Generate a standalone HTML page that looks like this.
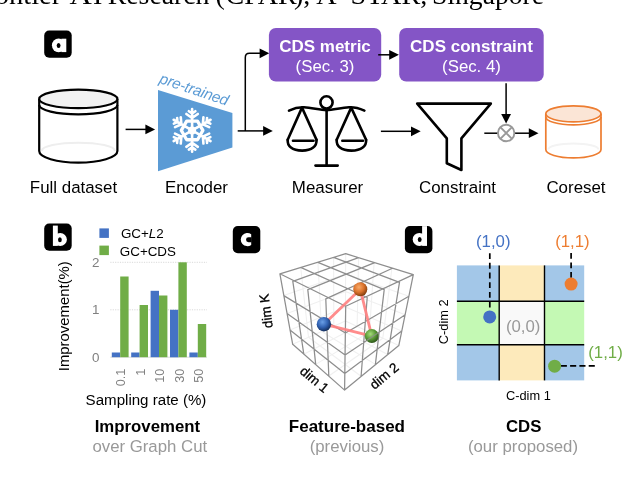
<!DOCTYPE html>
<html><head><meta charset="utf-8"><title>Figure</title>
<style>
html,body{margin:0;padding:0;background:#fff;overflow:hidden}
body{width:638px;height:488px;font-family:"Liberation Sans",sans-serif}
svg{display:block;will-change:transform}
</style></head><body>
<svg width="638" height="488" viewBox="0 0 638 488">
<rect x="0" y="0" width="638" height="488" fill="#fff"/>
<text x="-5.3" y="4.0" font-family="Liberation Serif, serif" font-size="28" fill="#000" textLength="66.6" lengthAdjust="spacingAndGlyphs">ontier</text>
<text x="69.4" y="4.0" font-family="Liberation Serif, serif" font-size="28" fill="#000" textLength="22.3" lengthAdjust="spacingAndGlyphs">A</text>
<text x="92.9" y="4.0" font-family="Liberation Serif, serif" font-size="28" fill="#000">I</text>
<text x="107.8" y="4.0" font-family="Liberation Serif, serif" font-size="28" fill="#000" textLength="101.6" lengthAdjust="spacingAndGlyphs">Research</text>
<text x="215.4" y="4.0" font-family="Liberation Serif, serif" font-size="28" fill="#000">(</text>
<text x="225.6" y="4.0" font-family="Liberation Serif, serif" font-size="28" fill="#000">CFAR</text>
<text x="294.0" y="4.0" font-family="Liberation Serif, serif" font-size="28" fill="#000">),</text>
<text x="316.2" y="4.0" font-family="Liberation Serif, serif" font-size="28" fill="#000" textLength="111.0" lengthAdjust="spacingAndGlyphs">A*STAR,</text>
<text x="432.0" y="4.0" font-family="Liberation Serif, serif" font-size="28" fill="#000" textLength="112.0" lengthAdjust="spacingAndGlyphs">Singapore</text>
<rect x="44.2" y="30.6" width="27.5" height="27.2" rx="5" ry="5" fill="#000"/>
<ellipse cx="58.6" cy="45.3" rx="6.7" ry="6.9" fill="#fff"/>
<rect x="61.4" y="38.7" width="4.9" height="13.4" fill="#fff"/>
<ellipse cx="58.6" cy="45.5" rx="1.9" ry="2.6" fill="#000"/>
<rect x="44.2" y="223.6" width="27.5" height="27.2" rx="5" ry="5" fill="#000"/>
<rect x="52.9" y="225.6" width="4.9" height="20.3" fill="#fff"/>
<ellipse cx="60.2" cy="239.5" rx="6.7" ry="6.5" fill="#fff"/>
<ellipse cx="59.9" cy="239.7" rx="1.9" ry="2.5" fill="#000"/>
<rect x="232.8" y="226.1" width="27.5" height="27.2" rx="5" ry="5" fill="#000"/>
<path d="M251.2,234.2 A6.6,6.6 0 1 0 251.2,244.9 Z" fill="#fff"/>
<path d="M251.6,237.3 L248.5,237.3 A2.45,2.45 0 0 0 248.5,242.2 L251.6,242.2 Z" fill="#000"/>
<rect x="404.9" y="226.1" width="27.5" height="27.2" rx="5" ry="5" fill="#000"/>
<rect x="422.1" y="226.1" width="4.9" height="19.8" fill="#fff"/>
<ellipse cx="419.4" cy="239.4" rx="6.7" ry="6.5" fill="#fff"/>
<ellipse cx="419.7" cy="239.6" rx="1.9" ry="2.5" fill="#000"/>
<path d="M41.699999999999996,151.0 A36.6,8.352 0 0 1 114.9,151.0" fill="none" stroke="#eeeeee" stroke-width="2"/>
<path d="M39.199999999999996,98.9 L39.199999999999996,151.0 A39.1,11.6 0 0 0 117.4,151.0 L117.4,98.9" fill="none" stroke="#000" stroke-width="2.2"/>
<path d="M39.199999999999996,105.10000000000001 A39.1,9.3 0 0 0 117.4,105.10000000000001" fill="none" stroke="#000" stroke-width="2.2"/>
<ellipse cx="78.3" cy="98.9" rx="39.1" ry="9.3" fill="#f2f2f2" stroke="#000" stroke-width="2.2"/>
<path d="M548.3,149.5 A25.1,6.048 0 0 1 598.5,149.5" fill="none" stroke="#f3f3f3" stroke-width="2"/>
<path d="M545.8,113.8 L545.8,149.5 A27.6,8.4 0 0 0 601.0,149.5 L601.0,113.8" fill="none" stroke="#ed7d31" stroke-width="1.7"/>
<path d="M545.8,116.89999999999999 A27.6,8.0 0 0 0 601.0,116.89999999999999" fill="none" stroke="#ed7d31" stroke-width="1.7"/>
<ellipse cx="573.4" cy="113.8" rx="27.6" ry="8.0" fill="#fbe5d6" stroke="#ed7d31" stroke-width="1.7"/>
<path d="M125.6,129.4 L146.4,129.4" fill="none" stroke="#000" stroke-width="1.5"/>
<polygon points="155.1,129.4 145.4,134.3 145.4,124.5" fill="#000"/>
<path d="M158,90 L232.4,113 L232.4,147.5 L158,171.3 Z" fill="#5b9bd5"/>
<path d="M192.10,130.40 L192.10,109.10 M192.10,118.00 L197.83,113.98 M192.10,118.00 L186.37,113.98 M192.10,113.50 L195.38,111.21 M192.10,113.50 L188.82,111.21 M192.10,130.40 L173.65,119.75 M181.36,124.20 L180.75,117.23 M181.36,124.20 L175.02,127.16 M177.46,121.95 L177.12,117.97 M177.46,121.95 L173.84,123.64 M192.10,130.40 L173.65,141.05 M181.36,136.60 L175.02,133.64 M181.36,136.60 L180.75,143.57 M177.46,138.85 L173.84,137.16 M177.46,138.85 L177.12,142.83 M192.10,130.40 L192.10,151.70 M192.10,142.80 L186.37,146.82 M192.10,142.80 L197.83,146.82 M192.10,147.30 L188.82,149.59 M192.10,147.30 L195.38,149.59 M192.10,130.40 L210.55,141.05 M202.84,136.60 L203.45,143.57 M202.84,136.60 L209.18,133.64 M206.74,138.85 L207.08,142.83 M206.74,138.85 L210.36,137.16 M192.10,130.40 L210.55,119.75 M202.84,124.20 L209.18,127.16 M202.84,124.20 L203.45,117.23 M206.74,121.95 L210.36,123.64 M206.74,121.95 L207.08,117.97" fill="none" stroke="#fff" stroke-width="2.6" stroke-linecap="round"/>
<polygon points="202.90,130.40 197.50,121.05 186.70,121.05 181.30,130.40 186.70,139.75 197.50,139.75" fill="none" stroke="#fff" stroke-width="3.3" stroke-linejoin="round"/>
<circle cx="192.1" cy="130.4" r="4" fill="#fff"/>
<text transform="translate(158.6,82.7) rotate(18.8)" font-family="Liberation Sans, sans-serif" font-style="italic" font-size="15.2" fill="#5b9bd5" textLength="71.8" lengthAdjust="spacing">pre-trained</text>
<path d="M237.7,130.9 L264.1,130.9" fill="none" stroke="#000" stroke-width="1.5"/>
<polygon points="272.8,130.9 263.1,135.8 263.1,126.0" fill="#000"/>
<path d="M245.3,130.9 L245.3,57.5 Q245.3,53.3 249.5,53.3 L260.6,53.3" fill="none" stroke="#000" stroke-width="1.5"/>
<polygon points="269.3,53.3 259.6,58.2 259.6,48.4" fill="#000"/>
<rect x="268.9" y="27.9" width="112.3" height="53.6" rx="7" ry="7" fill="#8455c6"/>
<rect x="399.2" y="27.9" width="144.5" height="53.6" rx="7" ry="7" fill="#8455c6"/>
<text x="325" y="51.5" text-anchor="middle" font-family="Liberation Sans, sans-serif" font-weight="bold" font-size="17" fill="#fff">CDS metric</text>
<text x="325" y="72.2" text-anchor="middle" font-family="Liberation Sans, sans-serif" font-size="16.8" fill="#fff">(Sec. 3)</text>
<text x="471.5" y="51.5" text-anchor="middle" font-family="Liberation Sans, sans-serif" font-weight="bold" font-size="17" fill="#fff">CDS constraint</text>
<text x="471.5" y="72.2" text-anchor="middle" font-family="Liberation Sans, sans-serif" font-size="16.8" fill="#fff">(Sec. 4)</text>
<path d="M378.2,54.8 L390.2,54.8" fill="none" stroke="#000" stroke-width="1.5"/>
<polygon points="398.9,54.8 389.2,59.7 389.2,49.9" fill="#000"/>
<path d="M506.1,83.3 L506.1,114.9" fill="none" stroke="#000" stroke-width="1.5"/>
<polygon points="506.1,123.6 501.2,113.9 511.0,113.9" fill="#000"/>
<g fill="none" stroke="#000" stroke-width="2.6" stroke-linecap="round" stroke-linejoin="round">
<circle cx="326.5" cy="102.4" r="6.1"/>
<path d="M326.6,109.5 L326.6,165.6"/>
<path d="M315.5,165.6 L337.7,165.6"/>
<path d="M289,110.6 C295,107.8 300,107.1 304,107.3 C312,107.7 320,110.1 326.6,110.1 C333,110.1 341,107.7 349,107.3 C353,107.1 358,107.8 364.4,110.6"/>
<path d="M302,107.6 L287.7,139.8 M302,107.6 L316.5,139.8"/>
<path d="M287.7,139.8 C287.2,146 292,150.6 302.1,150.6 C312,150.6 317,146 316.5,139.8"/>
<path d="M293,140.8 L313.5,140.8"/>
<path d="M351.2,107.6 L336.7,139.8 M351.2,107.6 L366.1,139.8"/>
<path d="M336.7,139.8 C336.2,146 341,150.6 351.4,150.6 C361.5,150.6 366.6,146 366.1,139.8"/>
<path d="M342.3,140.8 L363,140.8"/>
</g>
<path d="M380.9,131.3 L412.0,131.3" fill="none" stroke="#000" stroke-width="1.5"/>
<polygon points="420.7,131.3 411.0,136.2 411.0,126.4" fill="#000"/>
<path d="M417.2,103.6 L490.8,103.6 L461.4,138.4 L461.4,170 L446.8,163.2 L446.8,138.4 Z" fill="#fff" stroke="#000" stroke-width="2.6" stroke-linejoin="round"/>
<path d="M484.3,133.2 L498,133.2" fill="none" stroke="#000" stroke-width="1.5"/>
<path d="M514,133.2 L529.8,133.2" fill="none" stroke="#000" stroke-width="1.5"/>
<polygon points="538.5,133.2 528.8,138.1 528.8,128.3" fill="#000"/>
<circle cx="506.15" cy="133.0" r="8.2" fill="#fff" stroke="#999" stroke-width="1.9"/>
<path d="M500.3,127.15 L512.0,138.85 M512.0,127.15 L500.3,138.85" stroke="#999" stroke-width="1.9" fill="none"/>
<text x="73.5" y="192.5" text-anchor="middle" font-family="Liberation Sans, sans-serif" font-size="16.9" fill="#000">Full dataset</text>
<text x="196.5" y="192.5" text-anchor="middle" font-family="Liberation Sans, sans-serif" font-size="16.9" fill="#000">Encoder</text>
<text x="327.5" y="192.5" text-anchor="middle" font-family="Liberation Sans, sans-serif" font-size="16.9" fill="#000">Measurer</text>
<text x="457.5" y="192.5" text-anchor="middle" font-family="Liberation Sans, sans-serif" font-size="16.9" fill="#000">Constraint</text>
<text x="576" y="192.5" text-anchor="middle" font-family="Liberation Sans, sans-serif" font-size="16.9" fill="#000">Coreset</text>
<rect x="99.4" y="228.4" width="9.5" height="9.5" fill="#4472c4"/>
<rect x="99.4" y="245.6" width="9.5" height="9.5" fill="#70ad47"/>
<text x="120.9" y="238.3" font-family="Liberation Sans, sans-serif" font-size="13.4" fill="#000">GC+<tspan font-style="italic">L</tspan>2</text>
<text x="119.8" y="256.0" font-family="Liberation Sans, sans-serif" font-size="13.4" fill="#000">GC+CDS</text>
<path d="M110.3,309.8 L207,309.8" stroke="#d9d9d9" stroke-width="1" stroke-dasharray="1.2,1.2" fill="none"/>
<path d="M110.3,262.3 L207,262.3" stroke="#d9d9d9" stroke-width="1" stroke-dasharray="1.2,1.2" fill="none"/>
<path d="M110.3,357.2 L207,357.2" stroke="#d9d9d9" stroke-width="1" fill="none"/>
<rect x="111.8" y="352.5" width="8.4" height="4.7" fill="#4472c4"/>
<rect x="120.2" y="276.5" width="8.4" height="80.7" fill="#70ad47"/>
<rect x="131.2" y="352.5" width="8.4" height="4.7" fill="#4472c4"/>
<rect x="139.6" y="305.0" width="8.4" height="52.2" fill="#70ad47"/>
<rect x="150.6" y="290.8" width="8.4" height="66.4" fill="#4472c4"/>
<rect x="159.0" y="295.5" width="8.4" height="61.7" fill="#70ad47"/>
<rect x="170.0" y="309.8" width="8.4" height="47.5" fill="#4472c4"/>
<rect x="178.4" y="262.3" width="8.4" height="94.9" fill="#70ad47"/>
<rect x="189.4" y="352.5" width="8.4" height="4.7" fill="#4472c4"/>
<rect x="197.8" y="324.0" width="8.4" height="33.2" fill="#70ad47"/>
<text x="99.5" y="361.9" text-anchor="end" font-family="Liberation Sans, sans-serif" font-size="13.4" fill="#808080">0</text>
<text x="99.5" y="314.4" text-anchor="end" font-family="Liberation Sans, sans-serif" font-size="13.4" fill="#808080">1</text>
<text x="99.5" y="267.0" text-anchor="end" font-family="Liberation Sans, sans-serif" font-size="13.4" fill="#808080">2</text>
<text transform="translate(125.1,368.6) rotate(-90)" text-anchor="end" font-family="Liberation Sans, sans-serif" font-size="12.7" fill="#808080">0.1</text>
<text transform="translate(144.6,368.6) rotate(-90)" text-anchor="end" font-family="Liberation Sans, sans-serif" font-size="12.7" fill="#808080">1</text>
<text transform="translate(164.1,368.6) rotate(-90)" text-anchor="end" font-family="Liberation Sans, sans-serif" font-size="12.7" fill="#808080">10</text>
<text transform="translate(183.6,368.6) rotate(-90)" text-anchor="end" font-family="Liberation Sans, sans-serif" font-size="12.7" fill="#808080">30</text>
<text transform="translate(203.1,368.6) rotate(-90)" text-anchor="end" font-family="Liberation Sans, sans-serif" font-size="12.7" fill="#808080">50</text>
<text transform="translate(68.9,316.2) rotate(-90)" text-anchor="middle" font-family="Liberation Sans, sans-serif" font-size="14.9" fill="#000">Improvement(%)</text>
<text x="146" y="405.3" text-anchor="middle" font-family="Liberation Sans, sans-serif" font-size="15.1" fill="#000">Sampling rate (%)</text>
<text x="147.4" y="432" text-anchor="middle" font-family="Liberation Sans, sans-serif" font-weight="bold" font-size="16.8" fill="#000">Improvement</text>
<text x="149.8" y="451.6" text-anchor="middle" font-family="Liberation Sans, sans-serif" font-size="16.8" fill="#999">over Graph Cut</text>
<path d="M345.7,253.7 L345.4,321.0 M292.7,344.3 L345.4,321.0 M345.4,321.0 L398.8,345.6 M300.7,267.4 L308.5,337.3 M283.8,295.6 L345.6,273.9 M358.6,257.7 L357.1,326.4 M345.6,273.9 L408.9,296.2 M308.5,337.3 L361.1,376.3 M303.8,354.2 L357.1,326.4 M317.9,262.3 L321.7,331.5 M287.1,313.5 L345.5,291.4 M374.1,262.8 L369.4,332.1 M345.5,291.4 L405.2,314.8 M321.7,331.5 L375.4,364.4 M315.7,364.4 L369.4,332.1 M333.6,257.3 L333.8,326.1 M290.0,329.9 L345.5,306.9 M391.9,268.5 L382.8,338.2 M345.5,306.9 L401.7,330.9 M333.8,326.1 L387.7,354.6 M328.8,376.0 L382.8,338.2" fill="none" stroke="#f0f0f0" stroke-width="1.1"/>
<path d="M279.9,273.8 L345.7,253.7 M345.7,253.7 L413.3,274.6 M413.3,274.6 L345.7,306.2 M345.7,306.2 L279.9,273.8 M279.9,273.8 L292.7,344.3 M292.7,344.3 L344.6,390.1 M344.6,390.1 L345.7,306.2 M413.3,274.6 L398.8,345.6 M398.8,345.6 L344.6,390.1 M300.7,267.4 L367.2,297.5 M292.8,281.3 L358.6,257.7 M292.8,281.3 L303.8,354.2 M283.8,295.6 L345.4,333.0 M367.2,297.5 L361.1,376.3 M345.4,333.0 L408.9,296.2 M317.9,262.3 L384.2,289.6 M307.8,289.6 L374.1,262.8 M307.8,289.6 L315.7,364.4 M287.1,313.5 L345.1,355.0 M384.2,289.6 L375.4,364.4 M345.1,355.0 L405.2,314.8 M333.6,257.3 L399.5,282.4 M325.8,298.9 L391.9,268.5 M325.8,298.9 L328.8,376.0 M290.0,329.9 L344.8,373.6 M399.5,282.4 L387.7,354.6 M344.8,373.6 L401.7,330.9" fill="none" stroke="#8e8e8e" stroke-width="1.25" stroke-linecap="round"/>
<path d="M323.9,324.2 L360.3,289.3 L371.8,336.1 Z" fill="none" stroke="#ff7f7f" stroke-width="2.8" stroke-linejoin="round" opacity="0.9"/>
<defs>
<radialGradient id="gb" cx="0.4" cy="0.35" r="0.65"><stop offset="0" stop-color="#6a9fe6"/><stop offset="0.55" stop-color="#3263b3"/><stop offset="1" stop-color="#15305f"/></radialGradient>
<radialGradient id="gg" cx="0.4" cy="0.35" r="0.65"><stop offset="0" stop-color="#a6dc7c"/><stop offset="0.55" stop-color="#5c9c38"/><stop offset="1" stop-color="#2c5518"/></radialGradient>
<radialGradient id="go" cx="0.4" cy="0.35" r="0.65"><stop offset="0" stop-color="#f8ab6a"/><stop offset="0.55" stop-color="#dc732c"/><stop offset="1" stop-color="#84400f"/></radialGradient>
</defs>
<circle cx="323.9" cy="324.2" r="7.2" fill="url(#gb)"/>
<circle cx="371.8" cy="336.1" r="7.0" fill="url(#gg)"/>
<clipPath id="cg"><circle cx="371.8" cy="336.1" r="7.0"/></clipPath>
<path d="M367.2,297.5 L361.1,376.3 M345.4,333.0 L408.9,296.2 M384.2,289.6 L375.4,364.4 M345.1,355.0 L405.2,314.8 M399.5,282.4 L387.7,354.6 M344.8,373.6 L401.7,330.9" fill="none" stroke="#8e8e8e" stroke-width="1.25" opacity="0.75" clip-path="url(#cg)"/>
<circle cx="360.3" cy="289.3" r="7.0" fill="url(#go)"/>
<text transform="translate(266.0,311) rotate(-97)" text-anchor="middle" font-family="Liberation Sans, sans-serif" font-size="13.4" fill="#000" stroke="#000" stroke-width="0.3" dy="4.6">dim K</text>
<text transform="translate(314.5,379.6) rotate(40)" text-anchor="middle" font-family="Liberation Sans, sans-serif" font-size="13.4" fill="#000" stroke="#000" stroke-width="0.3" dy="4.6">dim 1</text>
<text transform="translate(384.2,375.9) rotate(-40)" text-anchor="middle" font-family="Liberation Sans, sans-serif" font-size="13.4" fill="#000" stroke="#000" stroke-width="0.3" dy="4.6">dim 2</text>
<text x="346.9" y="432" text-anchor="middle" font-family="Liberation Sans, sans-serif" font-weight="bold" font-size="17" fill="#000">Feature-based</text>
<text x="347.0" y="451.6" text-anchor="middle" font-family="Liberation Sans, sans-serif" font-size="16.8" fill="#999">(previous)</text>
<rect x="456.9" y="265.4" width="42.3" height="35.9" fill="#a3c7e8"/>
<rect x="499.2" y="265.4" width="45.3" height="35.9" fill="#fdeabb"/>
<rect x="544.5" y="265.4" width="39.7" height="35.9" fill="#a3c7e8"/>
<rect x="456.9" y="301.3" width="42.3" height="43.5" fill="#c4f9b4"/>
<rect x="499.2" y="301.3" width="45.3" height="43.5" fill="#f9f9f9"/>
<rect x="544.5" y="301.3" width="39.7" height="43.5" fill="#c4f9b4"/>
<rect x="456.9" y="344.8" width="42.3" height="35.6" fill="#a3c7e8"/>
<rect x="499.2" y="344.8" width="45.3" height="35.6" fill="#fdeabb"/>
<rect x="544.5" y="344.8" width="39.7" height="35.6" fill="#a3c7e8"/>
<path d="M499.2,265.4 L499.2,380.4" stroke="#000" stroke-width="1.4"/>
<path d="M544.5,265.4 L544.5,380.4" stroke="#000" stroke-width="1.4"/>
<path d="M456.9,301.3 L584.2,301.3" stroke="#000" stroke-width="1.4"/>
<path d="M456.9,344.8 L584.2,344.8" stroke="#000" stroke-width="1.4"/>
<path d="M489.8,253.2 L489.8,316.9" stroke="#000" stroke-width="1.7" stroke-dasharray="5.9,3.77" fill="none"/>
<path d="M571.1,252.9 L571.1,284.1" stroke="#000" stroke-width="1.7" stroke-dasharray="5.9,3.6" fill="none"/>
<path d="M594.8,365.8 L554.7,365.8" stroke="#000" stroke-width="1.7" stroke-dasharray="6.1,3.2" fill="none"/>
<circle cx="489.7" cy="316.9" r="6.5" fill="#4472c4"/>
<circle cx="571.1" cy="284.1" r="6.5" fill="#ed7d31"/>
<circle cx="554.6" cy="366.2" r="6.5" fill="#70ad47"/>
<text x="493.3" y="246.5" text-anchor="middle" font-family="Liberation Sans, sans-serif" font-size="16.8" fill="#4472c4">(1,0)</text>
<text x="572.4" y="246.5" text-anchor="middle" font-family="Liberation Sans, sans-serif" font-size="16.8" fill="#ed7d31">(1,1)</text>
<text x="605.5" y="358" text-anchor="middle" font-family="Liberation Sans, sans-serif" font-size="16.8" fill="#70ad47">(1,1)</text>
<text x="523.2" y="331.5" text-anchor="middle" font-family="Liberation Sans, sans-serif" font-size="16.8" fill="#999">(0,0)</text>
<text transform="translate(447.6,321.8) rotate(-90)" text-anchor="middle" font-family="Liberation Sans, sans-serif" font-size="12.8" fill="#000">C-dim 2</text>
<text x="528.4" y="400.4" text-anchor="middle" font-family="Liberation Sans, sans-serif" font-size="12.8" fill="#000">C-dim 1</text>
<text x="523.7" y="432" text-anchor="middle" font-family="Liberation Sans, sans-serif" font-weight="bold" font-size="16.8" fill="#000">CDS</text>
<text x="523.0" y="451.6" text-anchor="middle" font-family="Liberation Sans, sans-serif" font-size="16.8" fill="#999">(our proposed)</text>
</svg>
</body></html>
